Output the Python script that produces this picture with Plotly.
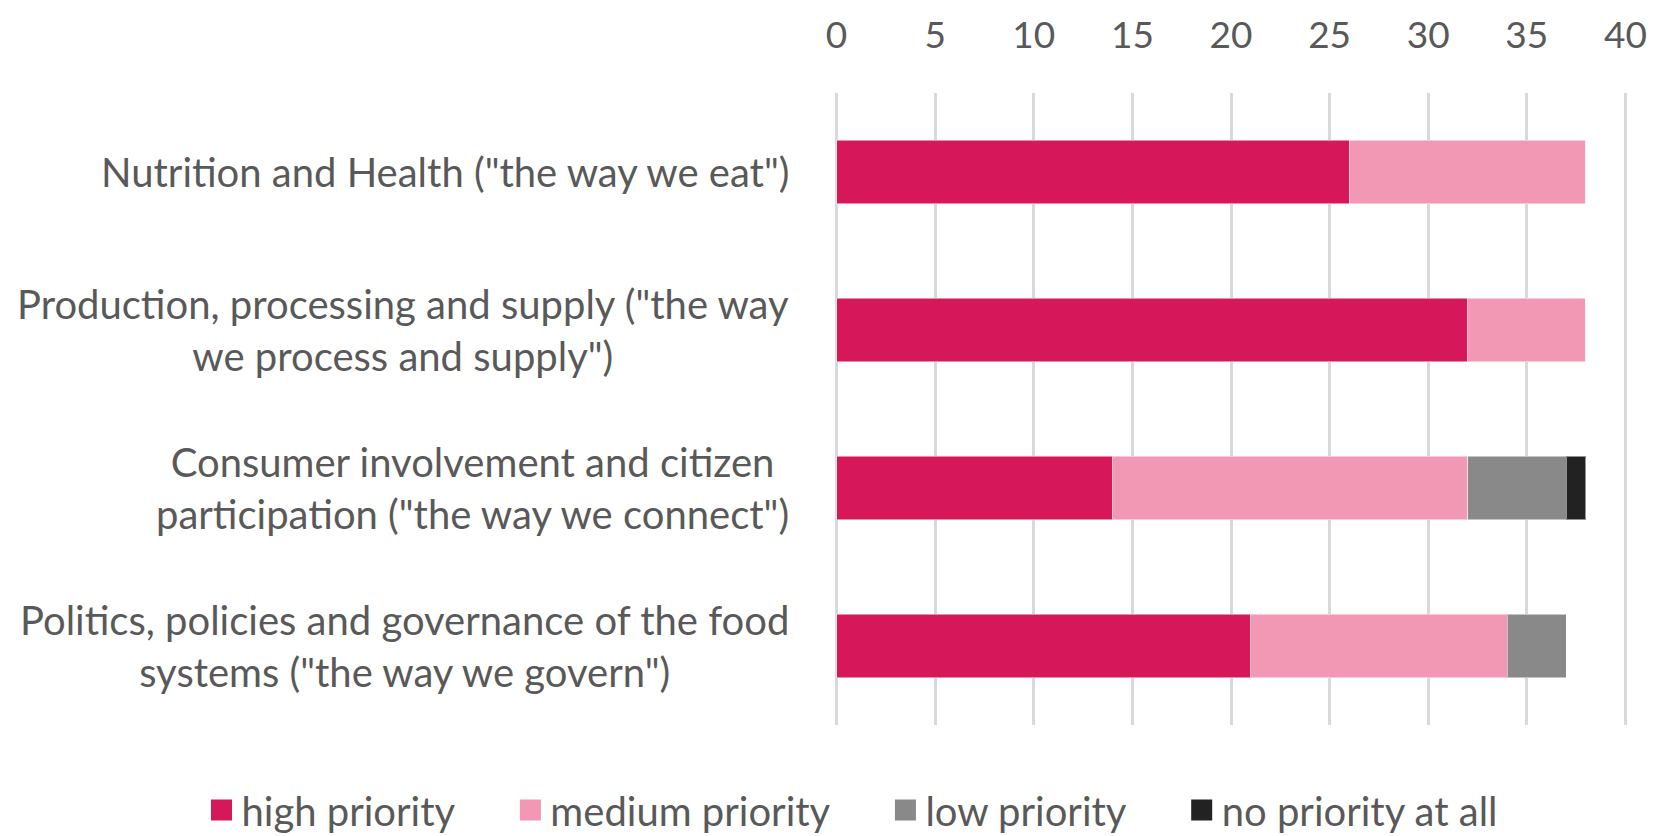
import plotly.graph_objects as go

categories = [
    'Nutrition and Health ("the way we eat")',
    'Production, processing and supply ("the way<br>we process and supply")',
    'Consumer involvement and citizen<br>participation ("the way we connect")',
    'Politics, policies and governance of the food<br>systems ("the way we govern")',
]
cat_keys = ["nutrition", "production", "consumer", "politics"]
series_names = ["high priority", "medium priority", "low priority", "no priority at all"]
high = [26, 32, 14, 21]
medium = [12, 6, 18, 13]
low = [0, 0, 5, 3]
none_ = [0, 0, 1, 0]
colors = ["#d6185a", "#f297b4", "#898989", "#222222"]
x_ticks = [0, 5, 10, 15, 20, 25, 30, 35, 40]

FONT = "Lato"
TXT = "#595959"
PAD = "\u00a0" * 5

fig = go.Figure()
for name, vals, col in zip(series_names, [high, medium, low, none_], colors):
    fig.add_trace(go.Bar(
        y=cat_keys, x=vals, name=name, orientation="h", showlegend=False,
        marker=dict(color=col, line=dict(color="rgba(255,255,255,0.5)", width=1)),
    ))

# legend entries (square swatches)
for i, (name, col) in enumerate(zip(series_names, colors)):
    label = name + (PAD if i < len(series_names) - 1 else "")
    fig.add_trace(go.Scatter(
        x=[None], y=[None], mode="markers", name=label, showlegend=True,
        marker=dict(symbol="square", size=16, color=col, line=dict(color=col, width=5)),
    ))

for key, label in zip(cat_keys, categories):
    fig.add_annotation(
        x=-0.0556, xref="paper", y=key, yref="y", text=label,
        xanchor="right", yanchor="middle", align="center", showarrow=False,
        font=dict(family=FONT, size=40, color=TXT),
    )

fig.update_layout(
    width=1650, height=828,
    margin=dict(l=827, r=31, t=85, b=111, autoexpand=False),
    barmode="stack", bargap=0.6,
    plot_bgcolor="white", paper_bgcolor="white",
    font=dict(family=FONT, size=40, color=TXT),
    showlegend=True,
    legend=dict(
        orientation="h", xref="paper", yref="paper",
        x=-0.7999, xanchor="left", y=-0.1345, yanchor="middle",
        font=dict(family=FONT, size=40, color=TXT), traceorder="normal",
        itemsizing="trace",
    ),
    xaxis=dict(
        side="top", range=[-0.08, 40.08], tickvals=x_ticks, showgrid=True,
        gridcolor="#d9d9d9", gridwidth=2.5, zeroline=False, showline=False,
        ticks="outside", ticklen=29, tickcolor="rgba(0,0,0,0)", automargin=False,
        tickfont=dict(family=FONT, size=37, color=TXT), fixedrange=True,
    ),
    yaxis=dict(
        categoryorder="array", categoryarray=cat_keys, autorange="reversed",
        showticklabels=False, showgrid=False, zeroline=False, showline=False,
        automargin=False, fixedrange=True,
    ),
)

fig.write_html("out.html")
